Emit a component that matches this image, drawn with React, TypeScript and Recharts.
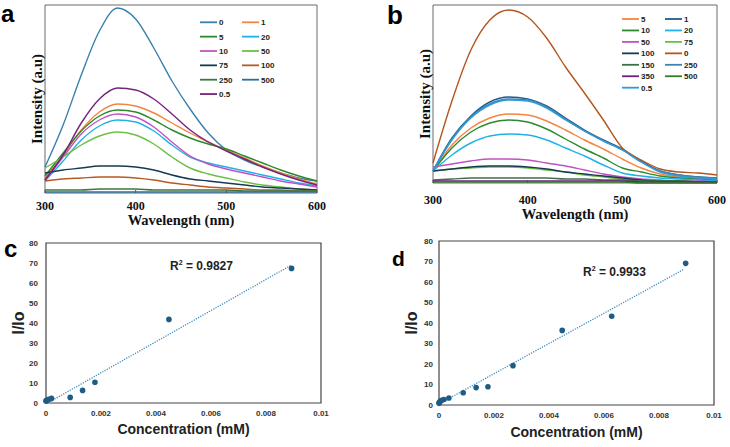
import {
  LineChart,
  Line,
  XAxis,
  YAxis,
  ReferenceArea,
  ComposedChart,
  Scatter,
} from "recharts";

const SERIF = '"Liberation Serif", "Times New Roman", serif';
const SANS = '"Liberation Sans", Arial, sans-serif';

// emission spectra, wavelength grid (nm)
const wavelengths = [300, 320, 340, 360, 380, 400, 420, 440, 460, 480, 500, 520, 540, 560, 580, 600];
const waveTicks = [300, 400, 500, 600];

// panel a intensities (a.u.)
const a0 = [26, 68, 118, 162, 185, 174, 145, 112, 84, 60, 43, 33, 26, 20, 15, 12];
const a1 = [15, 38, 63, 81, 89, 87, 80, 70, 60, 51, 43, 35, 27, 20, 14, 9];
const a5 = [17, 40, 62, 77, 83, 81, 73, 63, 55, 49, 44, 37, 30, 23, 17, 12];
const a20 = [12, 32, 53, 67, 73, 71, 62, 48, 36, 30, 26, 22, 18, 14, 10, 7];
const a10 = [13, 36, 59, 73, 79, 76, 66, 51, 37, 29, 24, 20, 16, 12, 9, 6];
const a50 = [25, 36, 48, 57, 61, 58, 49, 36, 25, 19, 15, 11, 8, 6, 4, 3];
const a75 = [20, 23, 25, 27, 27, 26, 23, 18, 14, 12, 10, 8, 6, 5, 4, 3];
const a100 = [12, 14, 15, 16, 16, 15, 13, 10, 8, 6, 5, 4, 3, 3, 2, 2];
const a250 = [3, 3, 3, 4, 4, 4, 3, 3, 3, 3, 3, 2, 2, 2, 2, 2];
const a500 = [1, 1, 1, 1, 1, 1, 1, 1, 1, 1, 1, 1, 1, 1, 1, 1];
const a05 = [13, 38, 70, 94, 105, 103, 94, 79, 63, 51, 42, 34, 26, 19, 13, 8];

// panel b intensities (a.u.)
const b5 = [12, 38, 55, 65, 69, 68, 62, 53, 43, 34, 24, 15, 9, 6, 4, 3];
const b1 = [12, 45, 67, 81, 86, 84, 77, 65, 53, 43, 34, 22, 12, 8, 6, 5];
const b10 = [12, 35, 51, 60, 63, 61, 54, 44, 34, 25, 15, 11, 7, 5, 4, 3];
const b20 = [12, 28, 40, 47, 49, 48, 43, 35, 27, 18, 10, 7, 5, 4, 3, 2];
const b50 = [16, 19, 22, 24, 24, 23, 20, 17, 13, 9, 6, 4, 3, 2, 2, 1];
const b75 = [12, 14, 15, 16, 16, 15, 13, 11, 8, 6, 4, 3, 2, 2, 1, 1];
const b100 = [12, 14, 16, 17, 17, 16, 14, 11, 9, 7, 5, 3, 2, 2, 1, 1];
const b0 = [20, 82, 133, 163, 173, 166, 145, 116, 90, 63, 35, 23, 14, 11, 10, 8];
const b150 = [3, 4, 5, 5, 5, 5, 5, 4, 4, 3, 3, 2, 2, 2, 1, 1];
const b250 = [12, 44, 66, 79, 84, 83, 76, 64, 52, 42, 33, 21, 12, 8, 6, 5];
const b350 = [2, 2, 2, 2, 2, 2, 2, 2, 2, 2, 2, 1, 1, 1, 1, 1];
const b500 = [1, 1, 1, 1, 1, 1, 1, 1, 1, 1, 1, 0, 0, 0, 0, 0];
const b05 = [12, 43, 65, 78, 83, 82, 75, 63, 52, 42, 33, 21, 11, 7, 5, 4];

// calibration plots
const concTicks = [0, 0.002, 0.004, 0.006, 0.008, 0.01];
const ratioTicks = [0, 10, 20, 30, 40, 50, 60, 70, 80];

const concC = [0, 0.00001, 0.00003, 0.00005, 0.0001, 0.0002, 0.00088, 0.00133, 0.00178, 0.00447, 0.00893];
const ratioC = [1.0, 1.1, 1.3, 1.5, 1.9, 2.3, 2.8, 6.3, 10.4, 41.8, 67.3];
const trendConcC = [0.00015, 0.0089];
const trendRatioC = [0.7, 68.8];

const concD = [0, 0.00001, 0.00003, 0.00006, 0.0001, 0.00018, 0.00036, 0.00088, 0.00135, 0.00178, 0.00269, 0.00448, 0.00628, 0.00897];
const ratioD = [0.8, 1.2, 1.6, 2.0, 2.3, 2.7, 3.4, 6.0, 8.5, 8.9, 19.2, 36.4, 43.3, 69.1];
const trendConcD = [0, 0.00892];
const trendRatioD = [0.5, 66.3];

type Series = { key: string; name: string; color: string; values: number[] };

const seriesA: Series[] = [
  { key: "c0", name: "0", color: "#3a80ad", values: a0 },
  { key: "c1", name: "1", color: "#f4853f", values: a1 },
  { key: "c5", name: "5", color: "#2b8a2e", values: a5 },
  { key: "c20", name: "20", color: "#1fb2ea", values: a20 },
  { key: "c10", name: "10", color: "#c152c4", values: a10 },
  { key: "c50", name: "50", color: "#6cc046", values: a50 },
  { key: "c75", name: "75", color: "#173a52", values: a75 },
  { key: "c100", name: "100", color: "#b55a22", values: a100 },
  { key: "c250", name: "250", color: "#3b7745", values: a250 },
  { key: "c500", name: "500", color: "#2a6f9c", values: a500 },
  { key: "c05", name: "0.5", color: "#76237a", values: a05 },
];

const seriesB: Series[] = [
  { key: "c5", name: "5", color: "#f4853f", values: b5 },
  { key: "c1", name: "1", color: "#1f5d8c", values: b1 },
  { key: "c10", name: "10", color: "#2b8a2e", values: b10 },
  { key: "c20", name: "20", color: "#1fb2ea", values: b20 },
  { key: "c50", name: "50", color: "#c152c4", values: b50 },
  { key: "c75", name: "75", color: "#6cc046", values: b75 },
  { key: "c100", name: "100", color: "#173a52", values: b100 },
  { key: "c0", name: "0", color: "#b5541e", values: b0 },
  { key: "c150", name: "150", color: "#3c7048", values: b150 },
  { key: "c250", name: "250", color: "#3d84b3", values: b250 },
  { key: "c350", name: "350", color: "#6e1f7a", values: b350 },
  { key: "c500", name: "500", color: "#327a28", values: b500 },
  { key: "c05", name: "0.5", color: "#3399d6", values: b05 },
];

function toRows(series: Series[]) {
  return wavelengths.map((w, i) => {
    const row: Record<string, number> = { w };
    series.forEach((s) => (row[s.key] = s.values[i]));
    return row;
  });
}

function SpectrumPanel({
  series,
  left,
  width,
  height,
  plotLeft,
  plotTop,
  plotBottom,
  right,
  yMax,
  yLabelOffset,
  tickMargin,
  xLabelOffset,
}: {
  series: Series[];
  left: number;
  width: number;
  height: number;
  plotLeft: number;
  plotTop: number;
  plotBottom: number;
  right: number;
  yMax: number;
  yLabelOffset: number;
  tickMargin: number;
  xLabelOffset: number;
}) {
  const rows = toRows(series);
  return (
    <div style={{ position: "absolute", left, top: 0 }}>
      <LineChart width={width} height={height} data={rows} margin={{ top: plotTop, right, left: 0, bottom: 0 }}>
        <XAxis
          dataKey="w"
          type="number"
          domain={[300, 600]}
          ticks={waveTicks}
          axisLine={false}
          tickLine={{ stroke: "#555" }}
          tickSize={-3}
          tickMargin={tickMargin}
          height={height - plotBottom}
          tick={{ fill: "#111", fontSize: 12, fontWeight: 700, fontFamily: SERIF }}
          label={{
            value: "Wavelength (nm)",
            position: "insideBottom",
            offset: xLabelOffset,
            style: { fill: "#111", fontSize: 14.5, fontWeight: 700, fontFamily: SERIF },
          }}
        />
        <YAxis
          type="number"
          domain={[0, yMax]}
          tick={false}
          axisLine={false}
          tickLine={false}
          width={plotLeft}
          label={{
            value: "Intensity (a.u)",
            angle: -90,
            position: "insideLeft",
            offset: yLabelOffset,
            style: { fill: "#111", fontSize: 15, fontWeight: 700, fontFamily: SERIF, textAnchor: "middle" },
          }}
        />
        {series.map((s) => (
          <Line
            key={s.key}
            dataKey={s.key}
            name={s.name}
            type="monotone"
            stroke={s.color}
            strokeWidth={1.4}
            dot={false}
            isAnimationActive={false}
          />
        ))}
        <ReferenceArea x1={300} x2={600} y1={0} y2={yMax} fill="none" stroke="#6a6a6a" strokeWidth={1} ifOverflow="visible" />
      </LineChart>
    </div>
  );
}

function Dot(props: { cx?: number; cy?: number }) {
  return <circle cx={props.cx} cy={props.cy} r={2.8} fill="#1d5c84" />;
}

function CalibrationPanel({
  conc,
  ratio,
  trendConc,
  trendRatio,
  left,
  top,
  width,
  height,
  plotLeft,
  plotTop,
  plotBottom,
  right,
  yTickMargin,
  yLabelOffset,
  xLabelOffset,
}: {
  conc: number[];
  ratio: number[];
  trendConc: number[];
  trendRatio: number[];
  left: number;
  top: number;
  width: number;
  height: number;
  plotLeft: number;
  plotTop: number;
  plotBottom: number;
  right: number;
  yTickMargin: number;
  yLabelOffset: number;
  xLabelOffset: number;
}) {
  const points = conc.map((x, i) => ({ x, y: ratio[i] }));
  const trend = trendConc.map((x, i) => ({ x, y: trendRatio[i] }));
  const tickStyle = { fill: "#333", fontSize: 8, fontWeight: 700, fontFamily: SANS };
  const titleStyle = { fill: "#222", fontSize: 14, fontWeight: 700, fontFamily: SANS };
  return (
    <div style={{ position: "absolute", left, top }}>
      <ComposedChart width={width} height={height} margin={{ top: plotTop, right, left: 0, bottom: 0 }}>
        <XAxis
          dataKey="x"
          type="number"
          domain={[0, 0.01]}
          ticks={concTicks}
          tickFormatter={(v: number) => (v === 0 ? "0" : v === 0.01 ? "0.01" : v.toFixed(3))}
          axisLine={false}
          tickLine={false}
          tickMargin={1}
          height={height - plotBottom}
          tick={tickStyle}
          label={{ value: "Concentration (mM)", position: "insideBottom", offset: xLabelOffset, style: titleStyle }}
        />
        <YAxis
          dataKey="y"
          type="number"
          domain={[0, 80]}
          ticks={ratioTicks}
          axisLine={false}
          tickLine={false}
          tickMargin={yTickMargin}
          width={plotLeft}
          tick={tickStyle}
          label={{
            value: "I/Io",
            angle: -90,
            position: "insideLeft",
            offset: yLabelOffset,
            style: { ...titleStyle, fontSize: 16, textAnchor: "middle" },
          }}
        />
        <Line
          data={trend}
          dataKey="y"
          type="linear"
          stroke="#3a8cc0"
          strokeWidth={1.3}
          strokeDasharray="1.2 1.3"
          dot={false}
          isAnimationActive={false}
        />
        <Scatter data={points} dataKey="y" shape={<Dot />} isAnimationActive={false} />
        <ReferenceArea x1={0} x2={0.01} y1={0} y2={80} fill="none" stroke="#444" strokeWidth={1.2} ifOverflow="visible" />
      </ComposedChart>
    </div>
  );
}

function Legend({ series, x1, x2, y0, step }: { series: Series[]; x1: number; x2: number; y0: number; step: number }) {
  return (
    <g>
      {series.map((s, i) => {
        const x = i % 2 === 0 ? x1 : x2;
        const y = y0 + Math.floor(i / 2) * step;
        return (
          <g key={s.key}>
            <line x1={x} x2={x + 17} y1={y} y2={y} stroke={s.color} strokeWidth={1.8} />
            <text x={x + 19} y={y + 3} fontSize={8} fontWeight={700} fontFamily={SANS} fill="#222">
              {s.name}
            </text>
          </g>
        );
      })}
    </g>
  );
}

export default function App() {
  return (
    <div style={{ position: "absolute", left: 0, top: 0, width: 730, height: 447, background: "#fff", overflow: "hidden" }}>
      <SpectrumPanel
        series={seriesA}
        left={0}
        width={330}
        height={229}
        plotLeft={45}
        plotTop={5}
        plotBottom={193}
        right={13}
        yMax={188}
        yLabelOffset={37}
        tickMargin={11.5}
        xLabelOffset={4}
      />
      <SpectrumPanel
        series={seriesB}
        left={365}
        width={365}
        height={224}
        plotLeft={68}
        plotTop={5}
        plotBottom={183}
        right={13}
        yMax={178}
        yLabelOffset={60}
        tickMargin={15.5}
        xLabelOffset={5}
      />
      <CalibrationPanel
        conc={concC}
        ratio={ratioC}
        trendConc={trendConcC}
        trendRatio={trendRatioC}
        left={0}
        top={225}
        width={340}
        height={222}
        plotLeft={46}
        plotTop={18}
        plotBottom={178}
        right={19}
        yTickMargin={2}
        yLabelOffset={18}
        xLabelOffset={13}
      />
      <CalibrationPanel
        conc={concD}
        ratio={ratioD}
        trendConc={trendConcD}
        trendRatio={trendRatioD}
        left={365}
        top={225}
        width={365}
        height={222}
        plotLeft={74}
        plotTop={16}
        plotBottom={180}
        right={16}
        yTickMargin={0}
        yLabelOffset={46}
        xLabelOffset={10}
      />
      <svg width={730} height={447} style={{ position: "absolute", left: 0, top: 0, pointerEvents: "none" }}>
        <Legend series={seriesA} x1={200} x2={242} y0={22.3} step={14.35} />
        <Legend series={seriesB} x1={622} x2={665} y0={19} step={11.45} />
        <text x={1} y={22} fontSize={24} fontWeight={700} fontFamily={SANS} fill="#000">a</text>
        <text x={387} y={24} fontSize={26} fontWeight={700} fontFamily={SANS} fill="#000">b</text>
        <text x={4} y={257} fontSize={24} fontWeight={700} fontFamily={SANS} fill="#000">c</text>
        <text x={392} y={266} fontSize={21} fontWeight={700} fontFamily={SANS} fill="#000">d</text>
        <text x={170} y={270} fontSize={12} fontWeight={700} fontFamily={SANS} fill="#222">
          R<tspan dy={-5} fontSize={7}>2</tspan>
          <tspan dy={5}> = 0.9827</tspan>
        </text>
        <text x={583} y={276} fontSize={12} fontWeight={700} fontFamily={SANS} fill="#222">
          R<tspan dy={-5} fontSize={7}>2</tspan>
          <tspan dy={5}> = 0.9933</tspan>
        </text>
      </svg>
    </div>
  );
}
